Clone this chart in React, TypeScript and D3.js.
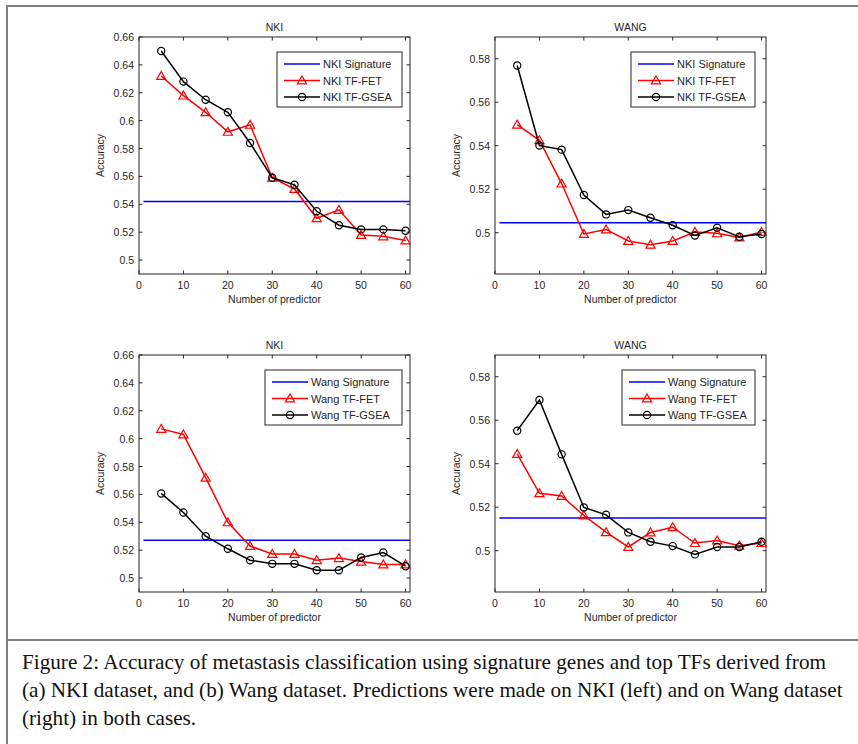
import React from "react";
import * as d3 from "d3";

// number of predictors (x values)
const predictors = [5, 10, 15, 20, 25, 30, 35, 40, 45, 50, 55, 60];

// (a) signatures from NKI, predicted on NKI
const nkiOnNkiSignature = 0.542;
const nkiOnNkiFet = [0.632, 0.618, 0.606, 0.592, 0.597, 0.559, 0.551, 0.530, 0.536, 0.518, 0.517, 0.514];
const nkiOnNkiGsea = [0.650, 0.628, 0.615, 0.606, 0.584, 0.559, 0.554, 0.535, 0.525, 0.522, 0.522, 0.521];

// (a) signatures from NKI, predicted on Wang
const nkiOnWangSignature = 0.5046;
const nkiOnWangFet = [0.5497, 0.5425, 0.5226, 0.4994, 0.5015, 0.4962, 0.4945, 0.4962, 0.5003, 0.4997, 0.4978, 0.5003];
const nkiOnWangGsea = [0.5769, 0.5401, 0.5382, 0.5173, 0.5084, 0.5104, 0.5069, 0.5034, 0.4987, 0.5023, 0.4981, 0.4994];

// (b) signatures from Wang, predicted on NKI
const wangOnNkiSignature = 0.5271;
const wangOnNkiFet = [0.607, 0.603, 0.572, 0.540, 0.523, 0.5173, 0.5173, 0.5128, 0.5143, 0.5118, 0.5097, 0.5097];
const wangOnNkiGsea = [0.5607, 0.547, 0.530, 0.521, 0.5128, 0.5102, 0.5102, 0.5056, 0.5056, 0.5148, 0.5183, 0.5085];

// (b) signatures from Wang, predicted on Wang
const wangOnWangSignature = 0.515;
const wangOnWangFet = [0.5445, 0.5264, 0.5252, 0.5162, 0.5085, 0.5017, 0.5084, 0.5108, 0.5035, 0.5047, 0.5023, 0.5035];
const wangOnWangGsea = [0.5552, 0.5693, 0.5443, 0.5199, 0.5165, 0.5084, 0.5041, 0.5021, 0.4983, 0.5017, 0.5017, 0.5041];

const xTicks = [0, 10, 20, 30, 40, 50, 60];
const yTicksNki = [0.5, 0.52, 0.54, 0.56, 0.58, 0.6, 0.62, 0.64, 0.66];
const yTicksWang = [0.5, 0.52, 0.54, 0.56, 0.58];

const captionLines = [
  "Figure 2: Accuracy of metastasis classification using signature genes and top TFs derived from",
  "(a) NKI dataset, and (b) Wang dataset. Predictions were made on NKI (left) and on Wang dataset",
  "(right) in both cases.",
];

const panels = [
  { title: "NKI", prefix: "NKI", sig: nkiOnNkiSignature, fet: nkiOnNkiFet, gsea: nkiOnNkiGsea, yDomain: [0.49, 0.66], yTicks: yTicksNki, left: 139, top: 37, legendX: 277, legendW: 125 },
  { title: "WANG", prefix: "NKI", sig: nkiOnWangSignature, fet: nkiOnWangFet, gsea: nkiOnWangGsea, yDomain: [0.481, 0.59], yTicks: yTicksWang, left: 495, top: 37, legendX: 631, legendW: 124 },
  { title: "NKI", prefix: "Wang", sig: wangOnNkiSignature, fet: wangOnNkiFet, gsea: wangOnNkiGsea, yDomain: [0.49, 0.66], yTicks: yTicksNki, left: 139, top: 355, legendX: 265, legendW: 137 },
  { title: "WANG", prefix: "Wang", sig: wangOnWangSignature, fet: wangOnWangFet, gsea: wangOnWangGsea, yDomain: [0.481, 0.59], yTicks: yTicksWang, left: 495, top: 355, legendX: 622, legendW: 133 },
];

const W = 858;
const H = 744;
const plotW = 271;
const plotH = 237;
const font = "'Liberation Sans', Arial, sans-serif";
const textColor = "#262626";

const App = () => {
  const svgRef = React.useRef(null);

  React.useEffect(() => {
    const svgEl = d3.select(svgRef.current);
    svgEl.selectAll("*").remove();

    svgEl.append("rect").attr("width", W).attr("height", H).attr("fill", "white");

    // figure frame
    const frame = svgEl.append("g").attr("stroke", "#7f7f7f").attr("stroke-width", 2);
    frame.append("line").attr("x1", 7).attr("x2", W).attr("y1", 6).attr("y2", 6);
    frame.append("line").attr("x1", 7).attr("x2", 7).attr("y1", 5).attr("y2", H);
    frame.append("line").attr("x1", 7).attr("x2", W).attr("y1", 640).attr("y2", 640);

    const triangle = d3.symbol().type(d3.symbolTriangle).size(36);

    panels.forEach((p) => {
      const x = d3.scaleLinear().domain([0, 61]).range([0, plotW]);
      const y = d3.scaleLinear().domain(p.yDomain).range([plotH, 0]);
      const g = svgEl.append("g").attr("transform", `translate(${p.left},${p.top})`);

      // title
      g.append("text")
        .attr("x", plotW / 2).attr("y", -6)
        .attr("text-anchor", "middle")
        .attr("font-family", font).attr("font-size", 10.5).attr("fill", textColor)
        .text(p.title);

      // axes box with inward ticks on all sides
      g.append("rect").attr("width", plotW).attr("height", plotH)
        .attr("fill", "none").attr("stroke", textColor).attr("stroke-width", 1);

      const tickLen = 3.5;
      const ticks = g.append("g").attr("stroke", textColor).attr("stroke-width", 1);
      xTicks.forEach((t) => {
        ticks.append("line").attr("x1", x(t)).attr("x2", x(t)).attr("y1", plotH).attr("y2", plotH - tickLen);
        ticks.append("line").attr("x1", x(t)).attr("x2", x(t)).attr("y1", 0).attr("y2", tickLen);
      });
      p.yTicks.forEach((t) => {
        ticks.append("line").attr("x1", 0).attr("x2", tickLen).attr("y1", y(t)).attr("y2", y(t));
        ticks.append("line").attr("x1", plotW).attr("x2", plotW - tickLen).attr("y1", y(t)).attr("y2", y(t));
      });

      g.selectAll(".xlab").data(xTicks).enter().append("text")
        .attr("x", (d) => x(d)).attr("y", plotH + 15)
        .attr("text-anchor", "middle")
        .attr("font-family", font).attr("font-size", 10.5).attr("fill", textColor)
        .text((d) => d);

      g.selectAll(".ylab").data(p.yTicks).enter().append("text")
        .attr("x", -5).attr("y", (d) => y(d) + 4)
        .attr("text-anchor", "end")
        .attr("font-family", font).attr("font-size", 10.5).attr("fill", textColor)
        .text((d) => String(+d.toFixed(2)));

      g.append("text")
        .attr("x", plotW / 2).attr("y", plotH + 29)
        .attr("text-anchor", "middle")
        .attr("font-family", font).attr("font-size", 10.5).attr("fill", textColor)
        .text("Number of predictor");

      g.append("text")
        .attr("transform", `translate(-35,${plotH / 2}) rotate(-90)`)
        .attr("text-anchor", "middle")
        .attr("font-family", font).attr("font-size", 10.5).attr("fill", textColor)
        .text("Accuracy");

      // signature baseline
      g.append("line")
        .attr("x1", x(1)).attr("x2", x(61))
        .attr("y1", y(p.sig)).attr("y2", y(p.sig))
        .attr("stroke", "#0000ff").attr("stroke-width", 1.5);

      const line = d3.line()
        .x((d) => x(d[0]))
        .y((d) => y(d[1]));

      const fetPts = predictors.map((v, i) => [v, p.fet[i]]);
      const gseaPts = predictors.map((v, i) => [v, p.gsea[i]]);

      g.append("path").attr("d", line(fetPts))
        .attr("fill", "none").attr("stroke", "#ff0000").attr("stroke-width", 1.5);
      g.selectAll(".tri").data(fetPts).enter().append("path")
        .attr("d", triangle)
        .attr("transform", (d) => `translate(${x(d[0])},${y(d[1]) + 0.8})`)
        .attr("fill", "none").attr("stroke", "#ff0000").attr("stroke-width", 1.2);

      g.append("path").attr("d", line(gseaPts))
        .attr("fill", "none").attr("stroke", "#000").attr("stroke-width", 1.5);
      g.selectAll(".circ").data(gseaPts).enter().append("circle")
        .attr("cx", (d) => x(d[0])).attr("cy", (d) => y(d[1])).attr("r", 3.6)
        .attr("fill", "none").attr("stroke", "#000").attr("stroke-width", 1.2);

      // legend
      const lx = p.legendX - p.left;
      const lg = g.append("g").attr("transform", `translate(${lx},15)`);
      lg.append("rect").attr("width", p.legendW).attr("height", 55)
        .attr("fill", "white").attr("stroke", textColor).attr("stroke-width", 1);
      const items = [
        { label: `${p.prefix} Signature`, color: "#0000ff", marker: null },
        { label: `${p.prefix} TF-FET`, color: "#ff0000", marker: "tri" },
        { label: `${p.prefix} TF-GSEA`, color: "#000", marker: "circ" },
      ];
      items.forEach((it, i) => {
        const cy = 12 + i * 16.5;
        lg.append("line").attr("x1", 7).attr("x2", 43).attr("y1", cy).attr("y2", cy)
          .attr("stroke", it.color).attr("stroke-width", 1.5);
        if (it.marker === "tri") {
          lg.append("path").attr("d", triangle).attr("transform", `translate(25,${cy + 0.8})`)
            .attr("fill", "none").attr("stroke", it.color).attr("stroke-width", 1.2);
        } else if (it.marker === "circ") {
          lg.append("circle").attr("cx", 25).attr("cy", cy).attr("r", 3.6)
            .attr("fill", "none").attr("stroke", it.color).attr("stroke-width", 1.2);
        }
        lg.append("text").attr("x", 46).attr("y", cy + 4)
          .attr("font-family", font).attr("font-size", 11).attr("fill", textColor)
          .text(it.label);
      });
    });

    // caption
    svgEl.selectAll(".cap").data(captionLines).enter().append("text")
      .attr("x", 22).attr("y", (d, i) => 669 + i * 28)
      .attr("font-family", "'Liberation Serif', 'Times New Roman', serif")
      .attr("font-size", 21.2).attr("fill", "#111")
      .text((d) => d);
  }, []);

  return (
    <svg ref={svgRef} width={W} height={H}
      style={{ position: "absolute", left: 0, top: 0, display: "block" }} />
  );
};

export default App;
